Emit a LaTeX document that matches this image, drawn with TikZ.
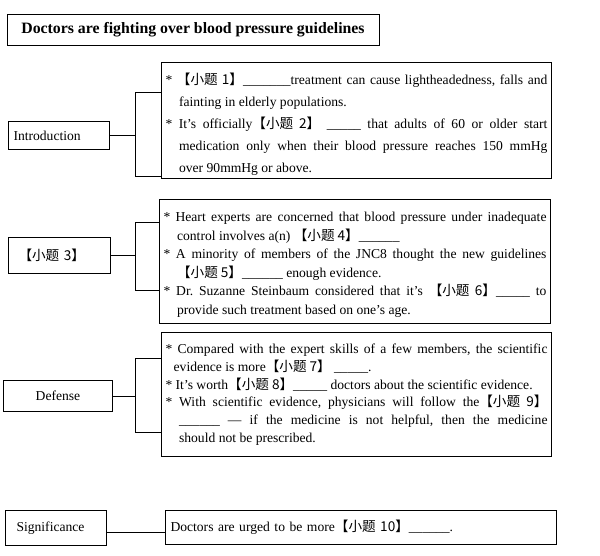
\documentclass[tikz,border=0pt]{standalone}
\usepackage{fontspec}
\setmainfont{Liberation Serif}
\newfontfamily\cjk{Noto Sans CJK SC}
\usetikzlibrary{positioning}

% the numbered gaps, e.g. \xt{1}
\newcommand{\xt}[1]{{\cjk 【小题 #1】}}
\newcommand{\bul}{\par\hangindent=1em\hangafter=1 * }
% extra room under the last line
\newcommand{\padbelow}[1]{\par\nointerlineskip\vspace*{#1}\hbox{}}

\begin{document}
\frenchspacing
\begin{tikzpicture}[x=1pt,y=-1pt,line width=1pt]
  \tikzstyle{every node}=[font=\fontsize{13.6}{18}\selectfont]
  \tikzstyle{secbox}=[draw,inner ysep=0pt,anchor=north west]
  \tikzstyle{txtbox}=[draw,text width=382pt,inner xsep=4pt,inner ysep=0pt,
                      align=justify,anchor=north west]

  \useasboundingbox (0,0) rectangle (600,555);

  \node[draw,minimum width=372pt,minimum height=31pt,inner sep=0pt,
        font=\bfseries\fontsize{15.8}{16}\selectfont] (title) at (193,29.5)
        {Doctors are fighting over blood pressure guidelines};

  % introduction
  \node[secbox,text width=91pt,inner xsep=5pt,minimum height=28pt,align=left]
        (intro) at (8,121) {Introduction};
  \node[txtbox,minimum height=116pt,font=\fontsize{13.6}{22}\selectfont]
        (introtxt) at (161,62)
        {\bul \xt{1}\_\_\_\_\_\_\_treatment can cause lightheadedness, falls and\linebreak
         fainting in elderly populations.
         \bul It’s officially\xt{2} \_\_\_\_\_ that adults of 60 or older start\linebreak
         medication only when their blood pressure reaches 150 mmHg\linebreak
         over 90mmHg or above.\padbelow{3pt}};

  % question 3
  \node[secbox,text width=82pt,inner xsep=10pt,minimum height=36pt,align=left]
        (qthree) at (8,237) {\xt{3}};
  \node[txtbox,text width=383pt,minimum height=124pt,font=\fontsize{13.6}{18.5}\selectfont]
        (qthreetxt) at (159,199)
        {\bul Heart experts are concerned that blood pressure under inadequate\linebreak
         control involves a(n) \xt{4}\_\_\_\_\_\_
         \bul A minority of members of the JNC8 thought the new guidelines\linebreak
         \xt{5}\_\_\_\_\_\_ enough evidence.
         \bul Dr. Suzanne Steinbaum considered that it’s \xt{6}\_\_\_\_\_ to\linebreak
         provide such treatment based on one’s age.\padbelow{3pt}};

  % defense
  \node[secbox,text width=99pt,inner xsep=5pt,minimum height=31pt,align=center]
        (defense) at (3,380) {Defense};
  \node[txtbox,minimum height=124pt,font=\fontsize{13.6}{17.8}\selectfont]
        (defensetxt) at (161,332)
        {\par\hangindent=0.6em\hangafter=1 * Compared with the expert skills of a few members, the scientific\linebreak
         evidence is more\xt{7} \_\_\_\_\_.
         \bul It’s worth\xt{8}\_\_\_\_\_ doctors about the scientific evidence.
         \bul With scientific evidence, physicians will follow the\xt{9}\linebreak
         \_\_\_\_\_\_ — if the medicine is not helpful, then the medicine\linebreak
         should not be prescribed.\padbelow{8pt}};

  % significance
  \node[secbox,text width=79pt,inner xsep=11pt,minimum height=35pt,align=left]
        (sig) at (5,510) {Significance};
  \node[secbox,text width=381pt,inner xsep=5pt,minimum height=34pt,align=left]
        (sigtxt) at (165,510) {Doctors are urged to be more\xt{10}\_\_\_\_\_\_.};

  % brackets
  \coordinate (ka) at (135,92);
  \coordinate (kb) at (135,176);
  \coordinate (kc) at (135,222);
  \coordinate (kd) at (135,290);
  \coordinate (ke) at (135,358);
  \coordinate (kf) at (135,432);

  \draw (intro.east) -- (intro.east -| ka);
  \draw (introtxt.west |- ka) -- (ka) -- (kb) -- (introtxt.west |- kb);
  \draw (qthree.east) -- (qthree.east -| kc);
  \draw (qthreetxt.west |- kc) -- (kc) -- (kd) -- (qthreetxt.west |- kd);
  \draw (defense.east) -- (defense.east -| ke);
  \draw (defensetxt.west |- ke) -- (ke) -- (kf) -- (defensetxt.west |- kf);
  \draw ([yshift=-4pt]sig.east) -- ([yshift=-4pt]sig.east -| sigtxt.west);
\end{tikzpicture}
\end{document}
